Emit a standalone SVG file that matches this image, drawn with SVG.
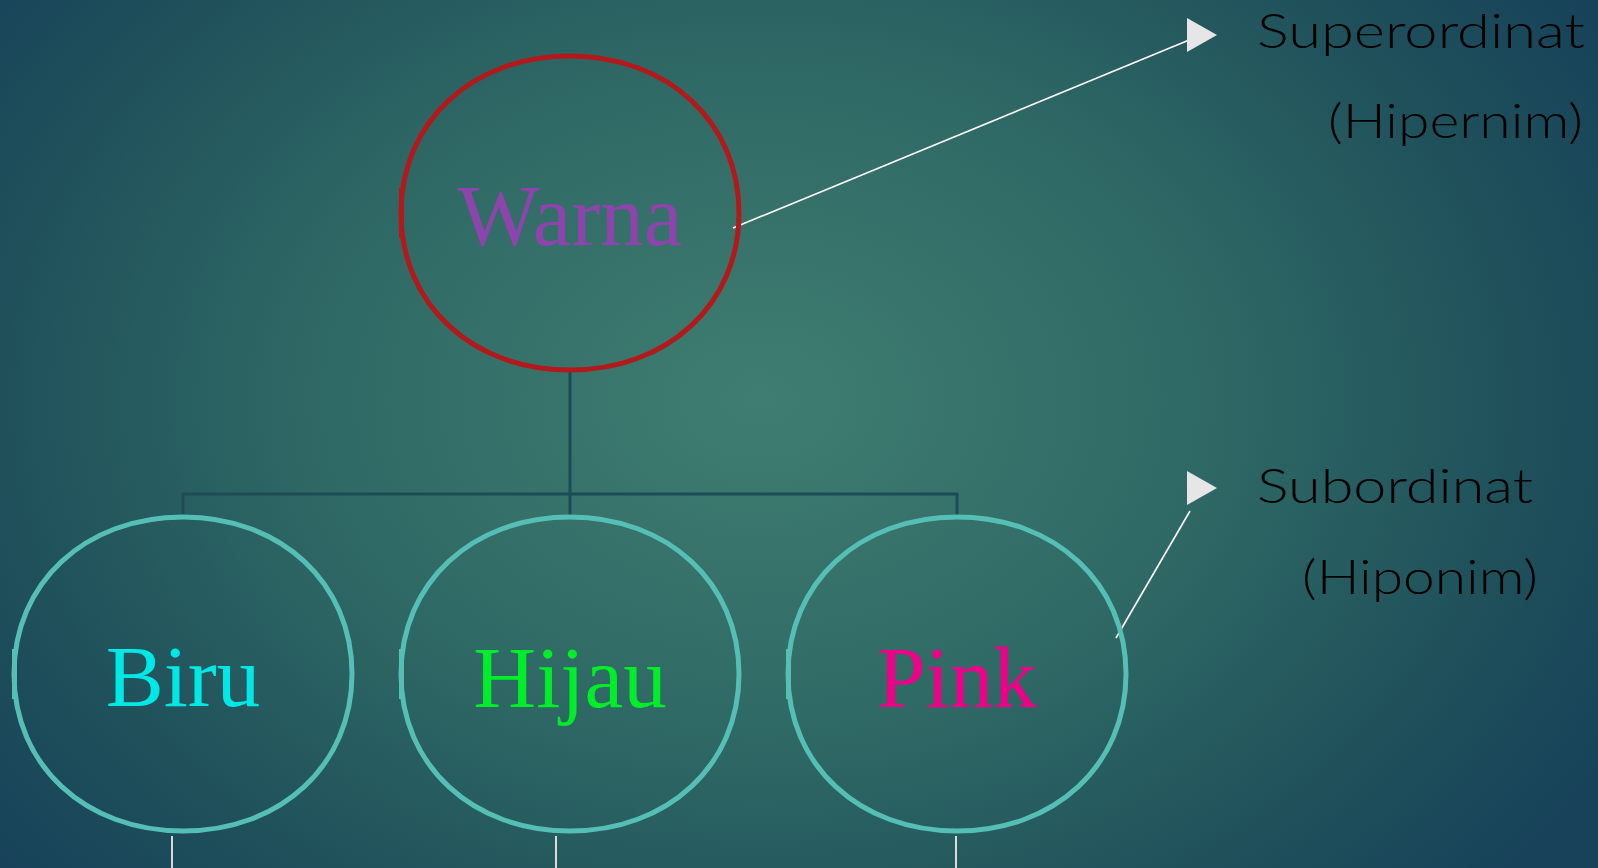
<svg xmlns="http://www.w3.org/2000/svg" width="1598" height="868" viewBox="0 0 1598 868">
<defs>
<radialGradient id="bg" cx="760" cy="400" r="980" gradientUnits="userSpaceOnUse" gradientTransform="translate(760 400) scale(1 0.75) translate(-760 -400)">
<stop offset="0" stop-color="#3f7d71"/>
<stop offset="0.45" stop-color="#2f6965"/>
<stop offset="0.8" stop-color="#1e4f5a"/>
<stop offset="1" stop-color="#17425a"/>
</radialGradient>
<path id="blob" d="M0,-157 C98,-157 169,-91 169,0 C169,91 98,157 0,157 C-98,157 -169,91 -169,0 C-169,-91 -98,-157 0,-157 Z M-168.5,-25 V25"/>
<style>
.child{fill:none;stroke:#55bfb6;stroke-width:5}
.root{fill:none;stroke:#b3191a;stroke-width:5}
.tree{fill:none;stroke:#1e4c54;stroke-width:3}
.wline{fill:none;stroke:#ffffff;stroke-width:1.6}
.node{font-family:"Liberation Serif","Times New Roman",serif;font-size:87px;text-anchor:middle}
.label{font-family:"Lato","Open Sans",sans-serif;font-weight:300;font-size:47px;fill:#000000}
.tri{fill:#e6e6e6}
</style>
</defs>
<rect width="1598" height="868" fill="url(#bg)"/>
<g id="connectors">
<path class="tree" d="M570 372 V494 M183 494 H957 M183 492.5 V517 M570 494 V517 M957 492.5 V517"/>
<line class="wline" x1="733" y1="228" x2="1194" y2="38"/>
<line class="wline" x1="1190" y1="511" x2="1116" y2="638"/>
<line class="wline" x1="172" y1="836" x2="172" y2="868"/>
<line class="wline" x1="556" y1="836" x2="556" y2="868"/>
<line class="wline" x1="956" y1="836" x2="956" y2="868"/>
</g>
<g id="warna">
<use href="#blob" class="root" transform="translate(570 213)"/>
<text class="node" x="570" y="245" fill="#8e44ad">Warna</text>
</g>
<g id="biru">
<use href="#blob" class="child" transform="translate(183 674)"/>
<text class="node" x="183" y="706" fill="#00e8e6">Biru</text>
</g>
<g id="hijau">
<use href="#blob" class="child" transform="translate(570 674)"/>
<text class="node" x="570" y="707" fill="#00ee2a">Hijau</text>
</g>
<g id="pink">
<use href="#blob" class="child" transform="translate(957 674)"/>
<text class="node" x="957" y="707" fill="#ee0088">Pink</text>
</g>
<g id="superordinat">
<polygon class="tri" points="1187,18 1187,52 1217,35"/>
<text class="label" x="1257" y="48" textLength="328" lengthAdjust="spacingAndGlyphs">Superordinat</text>
<text class="label" x="1328" y="138" textLength="255" lengthAdjust="spacingAndGlyphs">(Hipernim)</text>
</g>
<g id="subordinat">
<polygon class="tri" points="1187,471 1187,505 1217,488"/>
<text class="label" x="1257" y="503" textLength="276" lengthAdjust="spacingAndGlyphs">Subordinat</text>
<text class="label" x="1302" y="594" textLength="236" lengthAdjust="spacingAndGlyphs">(Hiponim)</text>
</g>
</svg>
